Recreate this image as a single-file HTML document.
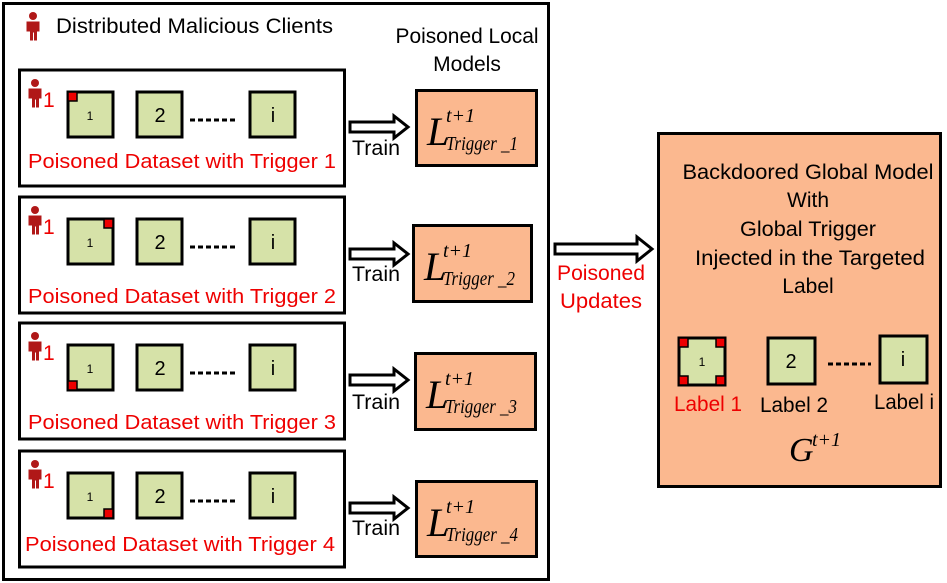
<!DOCTYPE html>
<html><head><meta charset="utf-8"><style>
html,body{margin:0;padding:0;background:#fff;}
svg{display:block;}
text{font-family:"Liberation Sans",sans-serif;}
.s{font-family:"Liberation Serif",serif;font-style:italic;}
</style></head><body>
<svg width="947" height="583" viewBox="0 0 947 583" xmlns="http://www.w3.org/2000/svg">
<defs>
<g id="person"><circle cx="8" cy="4" r="4" fill="#b01818"/><path d="M1.5,9.5 h13 v10 h-2.5 v9 h-3 v-8 h-1 v8 h-3 v-9 h-3.5z" fill="#b01818"/></g>
<g id="sq"><rect x="0" y="0" width="45" height="45" fill="#d6e2a8" stroke="#000" stroke-width="3"/></g>
</defs>
<rect x="3.5" y="3.5" width="545" height="576" fill="#fff" stroke="#000" stroke-width="3"/>
<use href="#person" x="25" y="12"/>
<text x="56" y="33" font-size="21" textLength="277" lengthAdjust="spacingAndGlyphs">Distributed Malicious Clients</text>
<text x="467" y="43" font-size="21" text-anchor="middle" textLength="143" lengthAdjust="spacingAndGlyphs">Poisoned Local</text>
<text x="467" y="71" font-size="21" text-anchor="middle">Models</text>

<g transform="translate(0,69)">
<rect x="19.5" y="1" width="325" height="116" fill="#fff" stroke="#000" stroke-width="3"/>
<use href="#person" x="27" y="10"/><text x="43" y="38" font-size="21" fill="#e00">1</text>
<use href="#sq" x="68" y="23"/><use href="#sq" x="137" y="23"/><use href="#sq" x="250" y="23"/>
<text x="90" y="51" font-size="12" text-anchor="middle">1</text>
<text x="160" y="53" font-size="20" text-anchor="middle">2</text>
<text x="273" y="53" font-size="20" text-anchor="middle">i</text>
<line x1="190" y1="51" x2="235" y2="51" stroke="#000" stroke-width="3" stroke-dasharray="5,3"/>
</g>
<g transform="translate(0,196)">
<rect x="19.5" y="1" width="325" height="116" fill="#fff" stroke="#000" stroke-width="3"/>
<use href="#person" x="27" y="10"/><text x="43" y="38" font-size="21" fill="#e00">1</text>
<use href="#sq" x="68" y="23"/><use href="#sq" x="137" y="23"/><use href="#sq" x="250" y="23"/>
<text x="90" y="51" font-size="12" text-anchor="middle">1</text>
<text x="160" y="53" font-size="20" text-anchor="middle">2</text>
<text x="273" y="53" font-size="20" text-anchor="middle">i</text>
<line x1="190" y1="51" x2="235" y2="51" stroke="#000" stroke-width="3" stroke-dasharray="5,3"/>
</g>
<g transform="translate(0,322)">
<rect x="19.5" y="1" width="325" height="116" fill="#fff" stroke="#000" stroke-width="3"/>
<use href="#person" x="27" y="10"/><text x="43" y="38" font-size="21" fill="#e00">1</text>
<use href="#sq" x="68" y="23"/><use href="#sq" x="137" y="23"/><use href="#sq" x="250" y="23"/>
<text x="90" y="51" font-size="12" text-anchor="middle">1</text>
<text x="160" y="53" font-size="20" text-anchor="middle">2</text>
<text x="273" y="53" font-size="20" text-anchor="middle">i</text>
<line x1="190" y1="51" x2="235" y2="51" stroke="#000" stroke-width="3" stroke-dasharray="5,3"/>
</g>
<g transform="translate(0,450)">
<rect x="19.5" y="1" width="325" height="116" fill="#fff" stroke="#000" stroke-width="3"/>
<use href="#person" x="27" y="10"/><text x="43" y="38" font-size="21" fill="#e00">1</text>
<use href="#sq" x="68" y="23"/><use href="#sq" x="137" y="23"/><use href="#sq" x="250" y="23"/>
<text x="90" y="51" font-size="12" text-anchor="middle">1</text>
<text x="160" y="53" font-size="20" text-anchor="middle">2</text>
<text x="273" y="53" font-size="20" text-anchor="middle">i</text>
<line x1="190" y1="51" x2="235" y2="51" stroke="#000" stroke-width="3" stroke-dasharray="5,3"/>
</g>
<g fill="#e00" stroke="#000" stroke-width="1.5">
<rect x="68" y="92" width="9" height="9"/>
<rect x="104" y="219" width="9" height="9"/>
<rect x="68" y="381" width="9" height="9"/>
<rect x="104" y="509" width="9" height="9"/>
</g>
<g fill="#e00" font-size="20" text-anchor="middle">
<text x="182" y="168" textLength="308" lengthAdjust="spacingAndGlyphs">Poisoned Dataset with Trigger 1</text>
<text x="182" y="303" textLength="308" lengthAdjust="spacingAndGlyphs">Poisoned Dataset with Trigger 2</text>
<text x="182" y="429" textLength="308" lengthAdjust="spacingAndGlyphs">Poisoned Dataset with Trigger 3</text>
<text x="180" y="551" textLength="310" lengthAdjust="spacingAndGlyphs">Poisoned Dataset with Trigger 4</text>
</g>

<g fill="#fff" stroke="#000" stroke-width="3">
<polygon points="350,122 394,122 394,116 408,127 394,138 394,132 350,132"/>
<polygon points="350,249 394,249 394,243 408,254 394,265 394,259 350,259"/>
<polygon points="350,375 394,375 394,369 408,380 394,391 394,385 350,385"/>
<polygon points="350,503 394,503 394,497 408,508 394,519 394,513 350,513"/>
</g>
<g font-size="21">
<text x="352" y="155" textLength="48" lengthAdjust="spacingAndGlyphs">Train</text>
<text x="352" y="281" textLength="48" lengthAdjust="spacingAndGlyphs">Train</text>
<text x="352" y="409" textLength="48" lengthAdjust="spacingAndGlyphs">Train</text>
<text x="352" y="535" textLength="48" lengthAdjust="spacingAndGlyphs">Train</text>
</g>

<g fill="#fbb88f" stroke="#000" stroke-width="3">
<rect x="416.5" y="90.5" width="120" height="75"/>
<rect x="413.5" y="225.5" width="118" height="76"/>
<rect x="415.5" y="353.5" width="120" height="76"/>
<rect x="416.5" y="481.5" width="120" height="75"/>
</g>
<g>
<text x="427" y="145" font-size="40" class="s">L</text><text x="446" y="122" font-size="20" class="s">t+1</text><text x="446" y="150" font-size="20" class="s" textLength="72" lengthAdjust="spacingAndGlyphs">Trigger _1</text>
<text x="424" y="280" font-size="40" class="s">L</text><text x="443" y="257" font-size="20" class="s">t+1</text><text x="443" y="285" font-size="20" class="s" textLength="72" lengthAdjust="spacingAndGlyphs">Trigger _2</text>
<text x="426" y="408" font-size="40" class="s">L</text><text x="445" y="385" font-size="20" class="s">t+1</text><text x="445" y="413" font-size="20" class="s" textLength="72" lengthAdjust="spacingAndGlyphs">Trigger _3</text>
<text x="427" y="536" font-size="40" class="s">L</text><text x="446" y="513" font-size="20" class="s">t+1</text><text x="446" y="541" font-size="20" class="s" textLength="72" lengthAdjust="spacingAndGlyphs">Trigger _4</text>
</g>

<polygon points="555,244 637,244 637,237 652,249 637,261 637,254 555,254" fill="#fff" stroke="#000" stroke-width="3"/>
<text x="601" y="280" font-size="21" fill="#e00" text-anchor="middle" textLength="88" lengthAdjust="spacingAndGlyphs">Poisoned</text>
<text x="601" y="308" font-size="21" fill="#e00" text-anchor="middle" textLength="82" lengthAdjust="spacingAndGlyphs">Updates</text>

<rect x="658.5" y="133.5" width="282" height="353" fill="#fbb88f" stroke="#000" stroke-width="3"/>
<g font-size="21" text-anchor="middle">
<text x="808" y="179" textLength="251" lengthAdjust="spacingAndGlyphs">Backdoored Global Model</text>
<text x="808" y="207">With</text>
<text x="808" y="236" textLength="136" lengthAdjust="spacingAndGlyphs">Global Trigger</text>
<text x="810" y="265" textLength="230" lengthAdjust="spacingAndGlyphs">Injected in the Targeted</text>
<text x="808" y="293">Label</text>
</g>
<rect x="679" y="338" width="46" height="47" fill="#d6e2a8" stroke="#000" stroke-width="3"/>
<g fill="#e00" stroke="#000" stroke-width="1.5">
<rect x="679" y="338" width="9" height="9"/><rect x="716" y="338" width="9" height="9"/>
<rect x="679" y="376" width="9" height="9"/><rect x="716" y="376" width="9" height="9"/>
</g>
<text x="702" y="366" font-size="12" text-anchor="middle">1</text>
<rect x="768" y="338" width="47" height="46" fill="#d6e2a8" stroke="#000" stroke-width="3"/>
<text x="791" y="368" font-size="20" text-anchor="middle">2</text>
<line x1="828" y1="364" x2="871" y2="364" stroke="#000" stroke-width="3" stroke-dasharray="5,3"/>
<rect x="880" y="336" width="47" height="47" fill="#d6e2a8" stroke="#000" stroke-width="3"/>
<text x="903" y="366" font-size="20" text-anchor="middle">i</text>
<text x="708" y="411" font-size="21" fill="#e00" text-anchor="middle" textLength="68" lengthAdjust="spacingAndGlyphs">Label 1</text>
<text x="794" y="412" font-size="21" text-anchor="middle" textLength="68" lengthAdjust="spacingAndGlyphs">Label 2</text>
<text x="904" y="409" font-size="21" text-anchor="middle" textLength="60" lengthAdjust="spacingAndGlyphs">Label i</text>
<text x="789" y="461" font-size="34" class="s">G</text><text x="812" y="446" font-size="20" class="s">t+1</text>
</svg>
</body></html>
